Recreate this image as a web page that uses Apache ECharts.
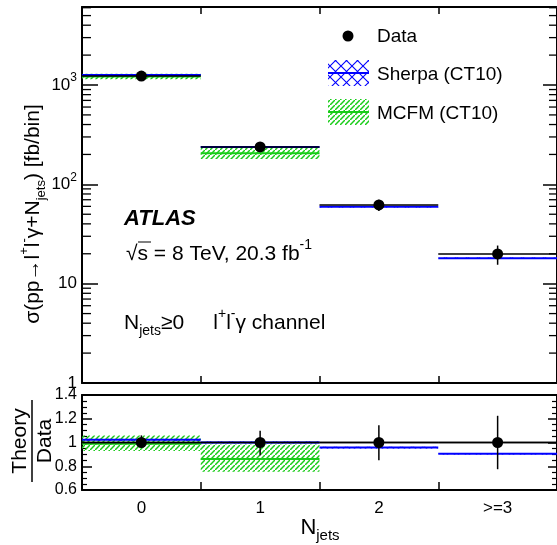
<!DOCTYPE html>
<html><head><meta charset="utf-8">
<script src="https://cdn.jsdelivr.net/npm/echarts@6/dist/echarts.min.js"></script>
<style>html,body{margin:0;padding:0;background:#fff}#c{width:557px;height:545px}</style>
</head><body><div id="c"></div><script>
// ---------- data ----------
const categories = ['0', '1', '2', '>=3'];
const dataValues   = [1230, 238, 62, 19.9];
const dataErrLow   = [1175, 224, 54, 15.5];
const dataErrHigh  = [1290, 253, 70, 24.2];
const sherpaValues = [1260, 238, 59.4, 18.0];
const sherpaLow    = [1242, 234, 58.6, 17.7];
const sherpaHigh   = [1278, 242, 60.2, 18.3];
const mcfmValues   = [1215, 205];
const mcfmLow      = [1142, 180];
const mcfmHigh     = [1300, 234];
// ratio panel
const ratioData       = [1, 1, 1, 1];
const ratioDataLow    = [0.955, 0.89, 0.85, 0.775];
const ratioDataHigh   = [1.06, 1.10, 1.145, 1.225];
const ratioSherpa     = [1.023, 1.0, 0.957, 0.905];
const ratioSherpaLow  = [1.015, 0.992, 0.950, 0.898];
const ratioSherpaHigh = [1.031, 1.008, 0.964, 0.912];
const ratioMcfm       = [0.99, 0.861];
const ratioMcfmLow    = [0.928, 0.754];
const ratioMcfmHigh   = [1.058, 0.983];
const mainMinorTicks = [2,3,4,5,6,7,8,9,20,30,40,50,60,70,80,90,200,300,400,500,600,700,800,900,2000,3000,4000,5000,6000];
const ratioTickLabels = {0.6: '0.6', 0.8: '0.8', 1: '1', 1.2: '1.2', 1.4: '1.4'};

const FONT = 'Liberation Sans, Arial, Helvetica, sans-serif';
const BLUE = '#0000ff', GREEN = '#19cc19';

function makePattern(kind) {
  const c = document.createElement('canvas');
  if (kind === 'cross') {
    c.width = 11; c.height = 11;
    const g = c.getContext('2d');
    g.strokeStyle = BLUE; g.lineWidth = 1.1;
    g.beginPath(); g.moveTo(0, 0); g.lineTo(11, 11); g.moveTo(11, 0); g.lineTo(0, 11); g.stroke();
  } else {
    c.width = 5; c.height = 5;
    const g = c.getContext('2d');
    g.strokeStyle = GREEN; g.lineWidth = 1.5;
    g.beginPath(); g.moveTo(-1, 6); g.lineTo(6, -1); g.stroke();
  }
  return { image: c, repeat: 'repeat' };
}
const crossPat = makePattern('cross');
const hatchPat = makePattern('hatch');

function zip3(a, b) { return a.map((v, i) => [i, v, b[i]]); }
function zip2(a) { return a.map((v, i) => [i, v]); }

function bandSeries(xi, yi, lo, hi, pat) {
  return {
    type: 'custom', xAxisIndex: xi, yAxisIndex: yi, silent: true,
    data: zip3(lo, hi), encode: { x: 0, y: [1, 2] },
    renderItem: function (params, api) {
      const i = api.value(0);
      const a = api.coord([i, api.value(1)]);
      const b = api.coord([i, api.value(2)]);
      const w = api.size([1, 0])[0];
      return { type: 'rect', shape: { x: a[0] - w / 2, y: b[1], width: w, height: a[1] - b[1] },
               style: { fill: pat, stroke: null } };
    }
  };
}
function lineSeries(xi, yi, vals, color, lw) {
  return {
    type: 'custom', xAxisIndex: xi, yAxisIndex: yi, silent: true,
    data: zip2(vals), encode: { x: 0, y: 1 },
    renderItem: function (params, api) {
      const p = api.coord([api.value(0), api.value(1)]);
      const w = api.size([1, 0])[0];
      return { type: 'line', shape: { x1: p[0] - w / 2, y1: p[1], x2: p[0] + w / 2, y2: p[1] },
               style: { stroke: color, lineWidth: lw } };
    }
  };
}
function dataSeries(xi, yi, vals, lo, hi) {
  return {
    type: 'custom', xAxisIndex: xi, yAxisIndex: yi, silent: true, z: 10,
    data: vals.map((v, i) => [i, v, lo[i], hi[i]]), encode: { x: 0, y: 1 },
    renderItem: function (params, api) {
      const i = api.value(0);
      const p = api.coord([i, api.value(1)]);
      const a = api.coord([i, api.value(2)]);
      const b = api.coord([i, api.value(3)]);
      const w = api.size([1, 0])[0];
      return { type: 'group', children: [
        { type: 'line', shape: { x1: p[0] - w / 2, y1: p[1], x2: p[0] + w / 2, y2: p[1] }, style: { stroke: '#000', lineWidth: 1.5 } },
        { type: 'line', shape: { x1: p[0], y1: a[1], x2: p[0], y2: b[1] }, style: { stroke: '#000', lineWidth: 1.5 } },
        { type: 'circle', shape: { cx: p[0], cy: p[1], r: 5.5 }, style: { fill: '#000' } }
      ] };
    }
  };
}

function richSet(big, small, lh) {
  return {
    n: { fontSize: big, fontFamily: FONT, color: '#000', lineHeight: lh, verticalAlign: 'middle' },
    sup: { fontSize: small, fontFamily: FONT, color: '#000', verticalAlign: 'top', lineHeight: lh },
    sub: { fontSize: small, fontFamily: FONT, color: '#000', verticalAlign: 'bottom', lineHeight: lh }
  };
}
const tickRich = richSet(17, 12, 26);
const labelRich = richSet(21, 14, 31);
const titleRich = richSet(21, 13, 30);

const chart = echarts.init(document.getElementById('c'), null, { renderer: 'canvas' });
const axisLineStyle = { show: true, lineStyle: { color: '#000', width: 2 } };

const option = {
  animation: false,
  backgroundColor: '#fff',
  grid: [
    { left: 82, top: 7, right: 0, height: 376 },
    { left: 82, top: 395, right: 0, height: 95 }
  ],
  xAxis: [
    { gridIndex: 0, type: 'category', data: categories, position: 'bottom', boundaryGap: true,
      axisLine: axisLineStyle, axisTick: { show: true, inside: true, length: 7, lineStyle: { color: '#000', width: 1.5 } },
      axisLabel: { show: false }, splitLine: { show: false } },
    { gridIndex: 0, type: 'category', data: categories, position: 'top', boundaryGap: true,
      axisLine: axisLineStyle, axisTick: { show: true, inside: true, length: 7, lineStyle: { color: '#000', width: 1.5 } },
      axisLabel: { show: false }, splitLine: { show: false } },
    { gridIndex: 1, type: 'category', data: categories, position: 'bottom', boundaryGap: true,
      axisLine: axisLineStyle, axisTick: { show: true, inside: true, length: 8, lineStyle: { color: '#000', width: 1.5 } },
      axisLabel: { show: true, color: '#000', fontSize: 17, fontFamily: FONT, margin: 10 }, splitLine: { show: false } },
    { gridIndex: 1, type: 'category', data: categories, position: 'top', boundaryGap: true,
      axisLine: axisLineStyle, axisTick: { show: false }, axisLabel: { show: false }, splitLine: { show: false } }
  ],
  yAxis: [
    { gridIndex: 0, type: 'log', logBase: 10, min: 1, max: 6100, position: 'left',
      axisLine: axisLineStyle, axisTick: { show: true, inside: true, length: 16, lineStyle: { color: '#000', width: 1.5 } },
      splitLine: { show: false },
      axisLabel: { show: true, margin: 5, color: '#000', fontSize: 17, fontFamily: FONT,
        formatter: function (v) {
          const e = Math.round(Math.log10(v));
          if (Math.abs(v - Math.pow(10, e)) > 1e-6 * v) return '';
          if (e === 0) return '{n|1}';
          if (e === 1) return '{n|10}';
          return '{n|10}{sup|' + e + '}';
        }, rich: tickRich } },
    { gridIndex: 0, type: 'log', logBase: 10, min: 1, max: 6100, position: 'right',
      axisLine: axisLineStyle, axisTick: { show: true, inside: true, length: 14, lineStyle: { color: '#000', width: 1.5 } },
      splitLine: { show: false }, axisLabel: { show: false } },
    { gridIndex: 1, type: 'value', min: 0.6, max: 1.4, interval: 0.2, position: 'left',
      axisLine: axisLineStyle, axisTick: { show: true, inside: true, length: 10, lineStyle: { color: '#000', width: 1.5 } },
      minorTick: { show: true, splitNumber: 4, length: 5, lineStyle: { color: '#000', width: 1.2 } },
      splitLine: { show: false }, minorSplitLine: { show: false },
      axisLabel: { show: true, margin: 5, color: '#000', fontSize: 16, fontFamily: FONT,
        formatter: function (v) { const k = Math.round(v * 10) / 10; return ratioTickLabels[k] || ''; } } },
    { gridIndex: 1, type: 'value', min: 0.6, max: 1.4, interval: 0.2, position: 'right',
      axisLine: axisLineStyle, axisTick: { show: true, inside: true, length: 9, lineStyle: { color: '#000', width: 1.5 } },
      minorTick: { show: true, splitNumber: 4, length: 5, lineStyle: { color: '#000', width: 1.2 } },
      splitLine: { show: false }, minorSplitLine: { show: false }, axisLabel: { show: false } }
  ],
  series: [
    { type: 'custom', xAxisIndex: 0, yAxisIndex: 0, silent: true,
      data: mainMinorTicks.map(v => [0, v]), encode: { x: 0, y: 1 },
      renderItem: function (params, api) {
        const y = api.coord([0, api.value(1)])[1];
        const cs = params.coordSys;
        return { type: 'group', children: [
          { type: 'line', shape: { x1: cs.x, y1: y, x2: cs.x + 9, y2: y }, style: { stroke: '#000', lineWidth: 1.3 } },
          { type: 'line', shape: { x1: cs.x + cs.width - 8, y1: y, x2: cs.x + cs.width, y2: y }, style: { stroke: '#000', lineWidth: 1.3 } }
        ] };
      } },
    bandSeries(0, 0, mcfmLow, mcfmHigh, hatchPat),
    lineSeries(0, 0, mcfmValues, GREEN, 2),
    bandSeries(0, 0, sherpaLow, sherpaHigh, crossPat),
    lineSeries(0, 0, sherpaValues, BLUE, 2),
    dataSeries(0, 0, dataValues, dataErrLow, dataErrHigh),
    bandSeries(2, 2, ratioMcfmLow, ratioMcfmHigh, hatchPat),
    lineSeries(2, 2, ratioMcfm, GREEN, 2),
    lineSeries(2, 2, ratioData, '#000', 1.5),
    bandSeries(2, 2, ratioSherpaLow, ratioSherpaHigh, crossPat),
    lineSeries(2, 2, ratioSherpa, BLUE, 2),
    dataSeries(2, 2, ratioData, ratioDataLow, ratioDataHigh)
  ],
  graphic: [
    { type: 'circle', shape: { cx: 348, cy: 36, r: 5.5 }, style: { fill: '#000' } },
    { type: 'text', x: 377, y: 37, style: { text: 'Data', fontSize: 19, fontFamily: FONT, fill: '#000', align: 'left', verticalAlign: 'middle' } },
    { type: 'rect', shape: { x: 328, y: 60, width: 41, height: 26 }, style: { fill: crossPat } },
    { type: 'line', shape: { x1: 328, y1: 73, x2: 369, y2: 73 }, style: { stroke: BLUE, lineWidth: 2 } },
    { type: 'text', x: 377, y: 75, style: { text: 'Sherpa (CT10)', fontSize: 19, fontFamily: FONT, fill: '#000', align: 'left', verticalAlign: 'middle' } },
    { type: 'rect', shape: { x: 328, y: 99, width: 41, height: 26 }, style: { fill: hatchPat } },
    { type: 'line', shape: { x1: 328, y1: 112, x2: 369, y2: 112 }, style: { stroke: GREEN, lineWidth: 2 } },
    { type: 'text', x: 377, y: 114, style: { text: 'MCFM (CT10)', fontSize: 19, fontFamily: FONT, fill: '#000', align: 'left', verticalAlign: 'middle' } },
    { type: 'text', x: 124, y: 219, style: { text: 'ATLAS', fontSize: 22, fontWeight: 'bold', fontStyle: 'italic', fontFamily: FONT, fill: '#000', align: 'left', verticalAlign: 'middle' } },
    { type: 'text', x: 126, y: 254, style: { text: '{n|\u221As = 8 TeV, 20.3 fb}{sup|-1}', rich: labelRich, align: 'left', verticalAlign: 'middle' } },
    { type: 'line', shape: { x1: 138, y1: 242, x2: 151, y2: 242 }, style: { stroke: '#000', lineWidth: 1 } },
    { type: 'text', x: 124, y: 323, style: { text: '{n|N}{sub|jets}{n|\u22650     l}{sup|+}{n|l}{sup|-}{n|\u03B3 channel}', rich: labelRich, align: 'left', verticalAlign: 'middle' } },
    { type: 'text', x: 33, y: 214, rotation: Math.PI / 2,
      style: { text: '{n|\u03C3(pp\u2192l}{sup|+}{n|l}{sup|-}{n|\u03B3+N}{sub|jets}{n|) [fb/bin]}', rich: titleRich, align: 'center', verticalAlign: 'middle' } },
    { type: 'text', x: 20, y: 441, rotation: Math.PI / 2, style: { text: 'Theory', fontSize: 21, fontFamily: FONT, fill: '#000', align: 'center', verticalAlign: 'middle' } },
    { type: 'line', shape: { x1: 32, y1: 400, x2: 32, y2: 482 }, style: { stroke: '#000', lineWidth: 1.5 } },
    { type: 'text', x: 45, y: 441, rotation: Math.PI / 2, style: { text: 'Data', fontSize: 21, fontFamily: FONT, fill: '#000', align: 'center', verticalAlign: 'middle' } },
    { type: 'text', x: 320, y: 528, style: { text: '{b|N}{bs|jets}', align: 'center', verticalAlign: 'middle',
      rich: { b: { fontSize: 22, fontFamily: FONT, color: '#000', lineHeight: 30, verticalAlign: 'middle' },
              bs: { fontSize: 15, fontFamily: FONT, color: '#000', lineHeight: 30, verticalAlign: 'bottom' } } } }
  ]
};
chart.setOption(option);
</script></body></html>
